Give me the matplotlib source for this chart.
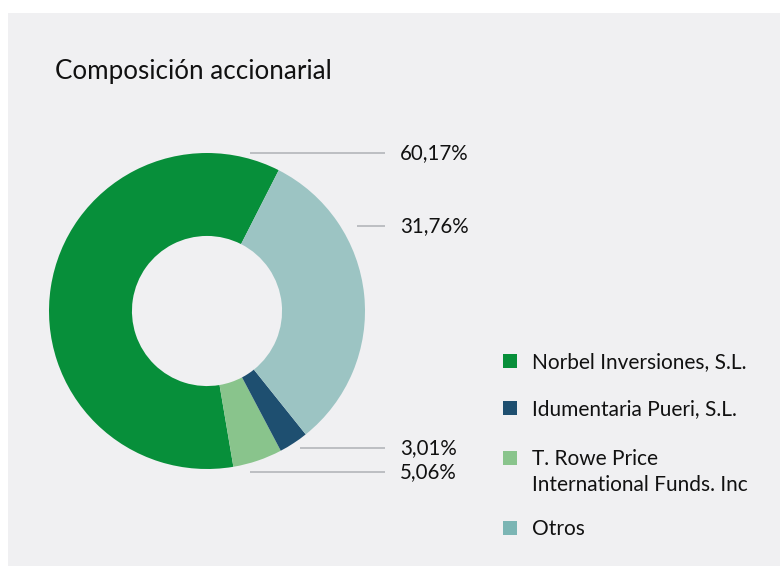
import matplotlib
matplotlib.use("Agg")
import matplotlib.pyplot as plt
from matplotlib.patches import Rectangle

plt.rcParams['font.family'] = ['Lato', 'DejaVu Sans']

# data, in the order the wedges run counter-clockwise from the top-right
wedge_names = ["Norbel Inversiones, S.L.", "T. Rowe Price\nInternational Funds. Inc",
               "Idumentaria Pueri, S.L.", "Otros"]
wedge_vals = [60.17, 5.06, 3.01, 31.76]
wedge_cols = ["#078F3A", "#89C48C", "#1E4F70", "#9CC4C3"]

legend_names = ["Norbel Inversiones, S.L.", "Idumentaria Pueri, S.L.",
                "T. Rowe Price\nInternational Funds. Inc", "Otros"]
legend_cols = ["#078F3A", "#1E4F70", "#89C48C", "#7BB5B4"]

label_txt = ["60,17%", "31,76%", "3,01%", "5,06%"]

W, H = 780, 566
fig = plt.figure(figsize=(W / 100, H / 100), dpi=100)
fig.patch.set_facecolor("white")

# full-figure axes in pixel units for panel, text and leader lines
bg = fig.add_axes([0, 0, 1, 1])
bg.set_xlim(0, W)
bg.set_ylim(H, 0)
bg.axis("off")
bg.add_patch(Rectangle((8, 13), W - 8, H - 13, facecolor="#F0F0F2", edgecolor="none"))

bg.text(55, 72, "Composición accionarial", fontsize=18.7, color="#111111",
        va="center", ha="left")

# donut
cx, cy, r = 207, 311, 158
ax = fig.add_axes([(cx - r) / W, (H - cy - r) / H, 2 * r / W, 2 * r / H])
ax.pie(wedge_vals, colors=wedge_cols, startangle=63, counterclock=True,
       radius=1, wedgeprops=dict(width=0.525, edgecolor="none"))
ax.set_xlim(-1, 1)
ax.set_ylim(-1, 1)
ax.set_aspect("equal")
ax.axis("off")

# leader lines and value labels
line_y = [153, 226, 448, 472]
line_x0 = [250, 357, 300, 250]
for y, x0, t in zip(line_y, line_x0, label_txt):
    bg.plot([x0, 385], [y, y], color="#B3B6BA", lw=1.2, solid_capstyle="butt")
    bg.text(400, y, t, fontsize=14.8, color="#111111", va="center", ha="left")

# legend
leg_y = [361, 408, 458, 528]
for y, name, c in zip(leg_y, legend_names, legend_cols):
    bg.add_patch(Rectangle((503, y - 7), 14, 14, facecolor=c, edgecolor="none"))
    bg.text(532, y - 9, name, fontsize=15, color="#111111", va="top", ha="left",
            linespacing=1.35)

fig.savefig("out.png", dpi=100)
